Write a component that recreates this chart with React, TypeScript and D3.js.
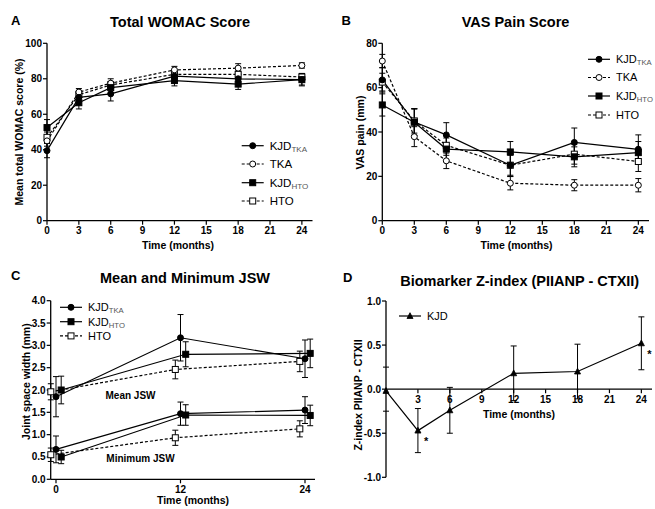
import React from 'react';
import * as d3 from 'd3';

// ---------- DATA ----------
const months = [0, 3, 6, 12, 18, 24];

// Panel A: Total WOMAC
const womacKjdTka = [39.5, 69.5, 71.5, 81.5, 80, 79.5];
const womacKjdTkaErr = [4, 3, 4, 3, 3, 3.5];
const womacTka = [45, 72.5, 77.5, 85, 86, 87.5];
const womacTkaErr = [3, 2, 2.5, 2, 2.5, 1.5];
const womacKjdHto = [52.5, 66.5, 75, 79, 77, 79.5];
const womacKjdHtoErr = [4.5, 3.5, 3, 3, 3, 3];
const womacHto = [47, 71, 76.5, 82.5, 82.5, 81];
const womacHtoErr = [3, 2, 2, 2, 2, 2];
const womacYTicks = [0, 20, 40, 60, 80, 100];
const monthTicks = [0, 3, 6, 9, 12, 15, 18, 21, 24];

// Panel B: VAS pain
const vasKjdTka = [63.5, 44.5, 38.7, 25, 35.3, 32.2];
const vasKjdTkaErr = [5.5, 6, 5.5, 5, 6.5, 6.5];
const vasTka = [72, 37.9, 27, 16.9, 16, 16];
const vasTkaErr = [3, 4.5, 3.5, 3, 2.5, 3];
const vasKjdHto = [52.2, 44.4, 32.3, 31, 28.8, 30.7];
const vasKjdHtoErr = [5, 6, 5, 4.7, 4.5, 5];
const vasHto = [62.5, 45, 34, 25, 30, 26.7];
const vasHtoErr = [4, 5.5, 4.5, 4.5, 4.5, 4.5];
const vasYTicks = [0, 20, 40, 60, 80];

// Panel C: JSW
const jswMonths = [0, 12, 24];
const jswMeanKjdTka = [1.85, 3.17, 2.7];
const jswMeanKjdTkaErr = [0.45, 0.52, 0.42];
const jswMeanKjdHto = [2.0, 2.8, 2.82];
const jswMeanKjdHtoErr = [0.31, 0.28, 0.32];
const jswMeanHto = [1.96, 2.46, 2.64];
const jswMeanHtoErr = [0.18, 0.21, 0.23];
const jswMinKjdTka = [0.67, 1.47, 1.55];
const jswMinKjdTkaErr = [0.3, 0.26, 0.3];
const jswMinKjdHto = [0.5, 1.44, 1.43];
const jswMinKjdHtoErr = [0.15, 0.23, 0.23];
const jswMinHto = [0.55, 0.93, 1.13];
const jswMinHtoErr = [0.15, 0.17, 0.18];
const jswYTicks = [0, 0.5, 1, 1.5, 2, 2.5, 3, 3.5, 4];
const jswXTicks = [0, 12, 24];

// Panel D: Biomarker Z-index
const zKjd = [-0.02, -0.47, -0.24, 0.18, 0.2, 0.52];
const zKjdErr = [0, 0.25, 0.26, 0.31, 0.31, 0.3];
const zYTicks = [-1, -0.5, 0, 0.5, 1];
const zYMinor = [-0.25, 0.25];
const zXTicks = [3, 6, 9, 12, 15, 18, 21, 24];
const zSignificant = [false, true, false, false, false, true];

// ---------- HELPERS ----------
const FONT = '"Liberation Sans", Arial, Helvetica, sans-serif';
type Marker = 'circle' | 'square' | 'triangle';
interface Series {
  xs: number[];
  ys: number[];
  errs: number[];
  marker: Marker;
  filled: boolean;
  dashed: boolean;
}

function MarkerShape({ cx, cy, marker, filled, size = 1 }: { cx: number; cy: number; marker: Marker; filled: boolean; size?: number }) {
  const fill = filled ? '#000' : '#fff';
  if (marker === 'circle') return <circle cx={cx} cy={cy} r={3 * size} fill={fill} stroke="#000" strokeWidth={1} />;
  if (marker === 'square') {
    const s = 6 * size;
    return <rect x={cx - s / 2} y={cy - s / 2} width={s} height={s} fill={fill} stroke="#000" strokeWidth={1} />;
  }
  const h = 5.5 * size;
  return <path d={`M${cx},${cy - h * 0.6}L${cx + h * 0.55},${cy + h * 0.45}L${cx - h * 0.55},${cy + h * 0.45}Z`} fill={fill} stroke="#000" strokeWidth={0.8} />;
}

function SeriesLines({ s, x, y }: { s: Series; x: (v: number) => number; y: (v: number) => number }) {
  const line = d3.line<number>().x((_, i) => x(s.xs[i])).y((d) => y(d));
  return (
    <path d={line(s.ys) || ''} fill="none" stroke="#000" strokeWidth={1.2} strokeDasharray={s.dashed ? '3,2' : undefined} />
  );
}

function SeriesErrors({ s, x, y }: { s: Series; x: (v: number) => number; y: (v: number) => number }) {
  return (
    <g stroke="#000" strokeWidth={1}>
      {s.ys.map((v, i) => {
        if (!s.errs[i]) return null;
        const cx = x(s.xs[i]);
        const y1 = y(v + s.errs[i]);
        const y2 = y(v - s.errs[i]);
        return (
          <g key={i}>
            <line x1={cx} x2={cx} y1={y1} y2={y2} />
            <line x1={cx - 3} x2={cx + 3} y1={y1} y2={y1} />
            <line x1={cx - 3} x2={cx + 3} y1={y2} y2={y2} />
          </g>
        );
      })}
    </g>
  );
}

function SeriesMarkers({ s, x, y, size }: { s: Series; x: (v: number) => number; y: (v: number) => number; size?: number }) {
  return (
    <g>
      {s.ys.map((v, i) => (
        <MarkerShape key={i} cx={x(s.xs[i])} cy={y(v)} marker={s.marker} filled={s.filled} size={size} />
      ))}
    </g>
  );
}

function LegendRow({ x, y, marker, filled, dashed, label, sub, fontSize }: { x: number; y: number; marker: Marker; filled: boolean; dashed: boolean; label: string; sub?: string; fontSize: number }) {
  return (
    <g>
      <line x1={x} x2={x + 22} y1={y} y2={y} stroke="#000" strokeWidth={1.2} strokeDasharray={dashed ? '3,2' : undefined} />
      <MarkerShape cx={x + 11} cy={y} marker={marker} filled={filled} />
      <text x={x + 28} y={y + fontSize * 0.36} fontSize={fontSize} fontFamily={FONT} fill="#000">
        {label}
        {sub ? (
          <tspan fontSize={fontSize * 0.7} dy={fontSize * 0.18} fill="#555">{sub}</tspan>
        ) : null}
      </text>
    </g>
  );
}

function Axes({ x, y, xTicks, yTicks, xFmt, yFmt, x0, x1, y0, y1 }: any) {
  return (
    <g fontFamily={FONT} fontWeight="bold" fontSize={10} fill="#000">
      <line x1={x0} x2={x0} y1={y0} y2={y1} stroke="#000" strokeWidth={1.3} />
      <line x1={x0} x2={x1} y1={y0} y2={y0} stroke="#000" strokeWidth={1.3} />
      {yTicks.map((t: number) => (
        <g key={'y' + t}>
          <line x1={x0 - 4} x2={x0} y1={y(t)} y2={y(t)} stroke="#000" strokeWidth={1.2} />
          <text x={x0 - 5} y={y(t) + 3.5} textAnchor="end">{yFmt(t)}</text>
        </g>
      ))}
      {xTicks.map((t: number) => (
        <g key={'x' + t}>
          <line x1={x(t)} x2={x(t)} y1={y0} y2={y0 + 4} stroke="#000" strokeWidth={1.2} />
          <text x={x(t)} y={y0 + 13.5} textAnchor="middle">{xFmt(t)}</text>
        </g>
      ))}
    </g>
  );
}

function PanelLetter({ x, y, t }: { x: number; y: number; t: string }) {
  return <text x={x} y={y} fontFamily={FONT} fontWeight="bold" fontSize={13} fill="#000">{t}</text>;
}
function Title({ x, y, t }: { x: number; y: number; t: string }) {
  return <text x={x} y={y} textAnchor="middle" fontFamily={FONT} fontWeight="bold" fontSize={14.5} fill="#000">{t}</text>;
}
function XLabel({ x, y, t }: { x: number; y: number; t: string }) {
  return <text x={x} y={y} textAnchor="middle" fontFamily={FONT} fontWeight="bold" fontSize={10.5} fill="#000">{t}</text>;
}
function YLabel({ x, y, t }: { x: number; y: number; t: string }) {
  return <text transform={`translate(${x},${y}) rotate(-90)`} textAnchor="middle" fontFamily={FONT} fontWeight="bold" fontSize={10.5} fill="#000">{t}</text>;
}

function drawSeries(list: Series[], x: any, y: any, size?: number) {
  return (
    <g>
      {list.map((s, i) => <SeriesLines key={'l' + i} s={s} x={x} y={y} />)}
      {list.map((s, i) => <SeriesErrors key={'e' + i} s={s} x={x} y={y} />)}
      {list.map((s, i) => <SeriesMarkers key={'m' + i} s={s} x={x} y={y} size={size} />)}
    </g>
  );
}

export default function App() {
  // Panel A
  const xA = d3.scaleLinear().domain([0, 25]).range([47, 312.5]);
  const yA = d3.scaleLinear().domain([0, 100]).range([220.7, 43.3]);
  const seriesA: Series[] = [
    { xs: months, ys: womacHto, errs: womacHtoErr, marker: 'square', filled: false, dashed: true },
    { xs: months, ys: womacTka, errs: womacTkaErr, marker: 'circle', filled: false, dashed: true },
    { xs: months, ys: womacKjdHto, errs: womacKjdHtoErr, marker: 'square', filled: true, dashed: false },
    { xs: months, ys: womacKjdTka, errs: womacKjdTkaErr, marker: 'circle', filled: true, dashed: false },
  ];

  // Panel B
  const xB = d3.scaleLinear().domain([0, 25]).range([382.3, 649]);
  const yB = d3.scaleLinear().domain([0, 80]).range([220.7, 43.3]);
  const seriesB: Series[] = [
    { xs: months, ys: vasHto, errs: vasHtoErr, marker: 'square', filled: false, dashed: true },
    { xs: months, ys: vasTka, errs: vasTkaErr, marker: 'circle', filled: false, dashed: true },
    { xs: months, ys: vasKjdHto, errs: vasKjdHtoErr, marker: 'square', filled: true, dashed: false },
    { xs: months, ys: vasKjdTka, errs: vasKjdTkaErr, marker: 'circle', filled: true, dashed: false },
  ];

  // Panel C
  const xC = d3.scaleLinear().domain([0, 24]).range([56, 305]);
  const yC = d3.scaleLinear().domain([0, 4]).range([479.3, 300.7]);
  const dodge = 0.5;
  const mHto = jswMonths.map((m) => m - dodge);
  const mKjdHto = jswMonths.map((m) => m + dodge);
  const seriesC: Series[] = [
    { xs: mHto, ys: jswMeanHto, errs: jswMeanHtoErr, marker: 'square', filled: false, dashed: true },
    { xs: mHto, ys: jswMinHto, errs: jswMinHtoErr, marker: 'square', filled: false, dashed: true },
    { xs: mKjdHto, ys: jswMeanKjdHto, errs: jswMeanKjdHtoErr, marker: 'square', filled: true, dashed: false },
    { xs: mKjdHto, ys: jswMinKjdHto, errs: jswMinKjdHtoErr, marker: 'square', filled: true, dashed: false },
    { xs: jswMonths, ys: jswMeanKjdTka, errs: jswMeanKjdTkaErr, marker: 'circle', filled: true, dashed: false },
    { xs: jswMonths, ys: jswMinKjdTka, errs: jswMinKjdTkaErr, marker: 'circle', filled: true, dashed: false },
  ];

  // Panel D
  const xD = d3.scaleLinear().domain([0, 25]).range([386, 652]);
  const yD = d3.scaleLinear().domain([-1, 1]).range([477.3, 301]);
  const seriesD: Series[] = [
    { xs: months, ys: zKjd, errs: zKjdErr, marker: 'triangle', filled: true, dashed: false },
  ];
  const fmtInt = (t: number) => String(t);
  const fmt1 = (t: number) => t.toFixed(1);

  return (
    <svg width={655} height={509} style={{ display: 'block', position: 'absolute', left: 0, top: 0, background: '#fff' }}>
      <rect width={655} height={509} fill="#fff" />

      {/* Panel A */}
      <PanelLetter x={11} y={25} t="A" />
      <Title x={180} y={26.5} t="Total WOMAC Score" />
      <Axes x={xA} y={yA} xTicks={monthTicks} yTicks={womacYTicks} xFmt={fmtInt} yFmt={fmtInt} x0={47} x1={312.5} y0={220.7} y1={43.3} />
      {drawSeries(seriesA, xA, yA)}
      <XLabel x={178} y={248.5} t="Time (months)" />
      <YLabel x={23} y={132} t="Mean total WOMAC score (%)" />
      <LegendRow x={241.7} y={145.7} marker="circle" filled dashed={false} label="KJD" sub="TKA" fontSize={11.5} />
      <LegendRow x={241.7} y={164} marker="circle" filled={false} dashed label="TKA" fontSize={11.5} />
      <LegendRow x={241.7} y={182.7} marker="square" filled dashed={false} label="KJD" sub="HTO" fontSize={11.5} />
      <LegendRow x={241.7} y={201} marker="square" filled={false} dashed label="HTO" fontSize={11.5} />

      {/* Panel B */}
      <PanelLetter x={341.5} y={25} t="B" />
      <Title x={515.5} y={26.5} t="VAS Pain Score" />
      <Axes x={xB} y={yB} xTicks={monthTicks} yTicks={vasYTicks} xFmt={fmtInt} yFmt={fmtInt} x0={382.3} x1={649} y0={220.7} y1={43.3} />
      {drawSeries(seriesB, xB, yB)}
      <XLabel x={516.5} y={248.5} t="Time (months)" />
      <YLabel x={364} y={132.5} t="VAS pain (mm)" />
      <LegendRow x={588} y={59.3} marker="circle" filled dashed={false} label="KJD" sub="TKA" fontSize={11} />
      <LegendRow x={588} y={77.5} marker="circle" filled={false} dashed label="TKA" fontSize={11} />
      <LegendRow x={588} y={96} marker="square" filled dashed={false} label="KJD" sub="HTO" fontSize={11} />
      <LegendRow x={588} y={115} marker="square" filled={false} dashed label="HTO" fontSize={11} />

      {/* Panel C */}
      <PanelLetter x={11} y={280} t="C" />
      <Title x={185} y={283.3} t="Mean and Minimum JSW" />
      <Axes x={xC} y={yC} xTicks={jswXTicks} yTicks={jswYTicks} xFmt={fmtInt} yFmt={fmt1} x0={50.7} x1={315} y0={479.3} y1={300.7} />
      {drawSeries(seriesC, xC, yC)}
      <text x={130.5} y={399} textAnchor="middle" fontFamily={FONT} fontWeight="bold" fontSize={10} fill="#000">Mean JSW</text>
      <text x={140.5} y={462.3} textAnchor="middle" fontFamily={FONT} fontWeight="bold" fontSize={10} fill="#000">Minimum JSW</text>
      <XLabel x={193} y={504} t="Time (months)" />
      <YLabel x={30} y={381.7} t="Joint space width (mm)" />
      <LegendRow x={60} y={307.3} marker="circle" filled dashed={false} label="KJD" sub="TKA" fontSize={11} />
      <LegendRow x={60} y={321.7} marker="square" filled dashed={false} label="KJD" sub="HTO" fontSize={11} />
      <LegendRow x={60} y={335.9} marker="square" filled={false} dashed label="HTO" fontSize={11} />

      {/* Panel D */}
      <PanelLetter x={343} y={281.7} t="D" />
      <Title x={519.7} y={286} t="Biomarker Z-index (PIIANP - CTXII)" />
      <g fontFamily={FONT} fontWeight="bold" fontSize={10} fill="#000">
        <line x1={386} x2={386} y1={301} y2={477.3} stroke="#000" strokeWidth={1.3} />
        <line x1={386} x2={652} y1={yD(0)} y2={yD(0)} stroke="#000" strokeWidth={1.3} />
        {zYTicks.map((t) => (
          <g key={'zy' + t}>
            <line x1={382} x2={386} y1={yD(t)} y2={yD(t)} stroke="#000" strokeWidth={1.2} />
            <text x={381} y={yD(t) + 3.5} textAnchor="end">{fmt1(t)}</text>
          </g>
        ))}
        {zYMinor.map((t) => (
          <line key={'zm' + t} x1={383} x2={389} y1={yD(t)} y2={yD(t)} stroke="#000" strokeWidth={1} />
        ))}
        {zXTicks.map((t) => (
          <g key={'zx' + t}>
            <line x1={xD(t)} x2={xD(t)} y1={yD(0)} y2={yD(0) + 4} stroke="#000" strokeWidth={1.2} />
            <text x={xD(t)} y={yD(0) + 14} textAnchor="middle">{t}</text>
          </g>
        ))}
      </g>
      {drawSeries(seriesD, xD, yD)}
      {zKjd.map((v, i) =>
        zSignificant[i] ? (
          <text key={'s' + i} x={xD(months[i]) + 6} y={yD(v - 0.12) + 4} fontFamily={FONT} fontWeight="bold" fontSize={11} fill="#000">*</text>
        ) : null
      )}
      <XLabel x={519} y={417.5} t="Time (months)" />
      <YLabel x={362} y={395} t="Z-index PIIANP - CTXII" />
      <LegendRow x={399} y={316} marker="triangle" filled dashed={false} label="KJD" fontSize={11} />
    </svg>
  );
}
